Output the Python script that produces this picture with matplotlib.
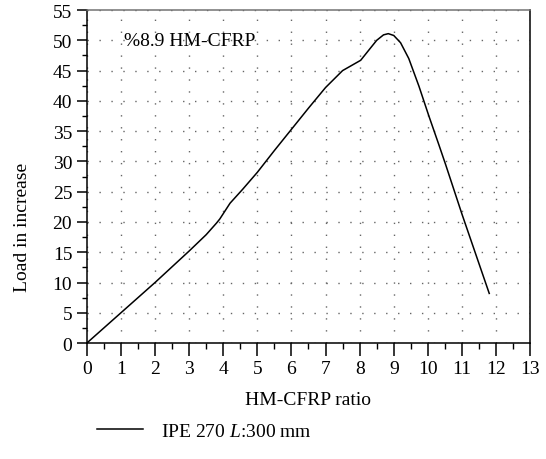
import numpy as np
import matplotlib
matplotlib.use("Agg")
import matplotlib.pyplot as plt
from matplotlib.ticker import MultipleLocator

plt.rcParams['font.family'] = ['Liberation Serif', 'DejaVu Serif']
plt.rcParams['mathtext.fontset'] = 'custom'
plt.rcParams['mathtext.it'] = 'Liberation Serif:italic'
plt.rcParams['mathtext.rm'] = 'Liberation Serif'

# data
ratio = [0, 1, 2, 3, 3.5, 3.8, 3.9, 4.2, 4.57, 5, 5.5, 6, 6.5, 7, 7.5, 8.03, 8.3, 8.5, 8.7, 8.84,
         9.0, 9.2, 9.44, 9.74, 10.03, 10.32, 10.52, 11.0, 11.8]
load = [0, 5, 10, 15.2, 17.9, 19.8, 20.5, 23.1, 25.4, 28.2, 31.8, 35.3, 38.8, 42.2, 45.0, 46.7,
        48.6, 50.0, 50.9, 51.1, 50.8, 49.6, 47.0, 42.4, 37.5, 32.8, 29.5, 21.3, 8.2]
label = 'IPE 270 $L$:300 mm'
note = '%8.9 HM-CFRP'

fs = 14

fig = plt.figure(figsize=(5.46, 4.6), dpi=100)
ax = fig.add_axes([0.159, 0.252, 0.812, 0.724])

ax.plot(ratio, load, color='black', lw=1.1, label=label)

ax.set_xlim(0, 13)
ax.set_ylim(0, 55)
ax.xaxis.set_major_locator(MultipleLocator(1))
ax.xaxis.set_minor_locator(MultipleLocator(0.5))
ax.yaxis.set_major_locator(MultipleLocator(5))
ax.yaxis.set_minor_locator(MultipleLocator(2.5))
ax.tick_params(axis='x', which='major', direction='out', length=9, width=1.1, labelsize=fs)
ax.tick_params(axis='x', which='minor', direction='out', length=4, width=1)
ax.tick_params(axis='y', which='major', direction='out', length=7, width=1.1, labelsize=fs)
ax.tick_params(axis='y', which='minor', direction='out', length=3.5, width=1)
for s in ax.spines.values():
    s.set_linewidth(1.1)
ax.spines['top'].set_color('0.45')

ax.grid(which='major', color='0.4', linestyle=(0, (1, 7.6)), linewidth=1)

ax.set_xlabel('HM-CFRP ratio', fontsize=fs, labelpad=10)
ax.set_ylabel('Load in increase', fontsize=fs)
ax.yaxis.set_label_coords(-0.125, 0.35)

ax.text(1.1, 50, note, fontsize=fs, va='center', ha='left')

fig.legend(loc='center left', bbox_to_anchor=(0.145, 0.06), frameon=False, fontsize=fs,
           handlelength=2.4, handletextpad=0.9)

fig.savefig('out.png', dpi=100)
